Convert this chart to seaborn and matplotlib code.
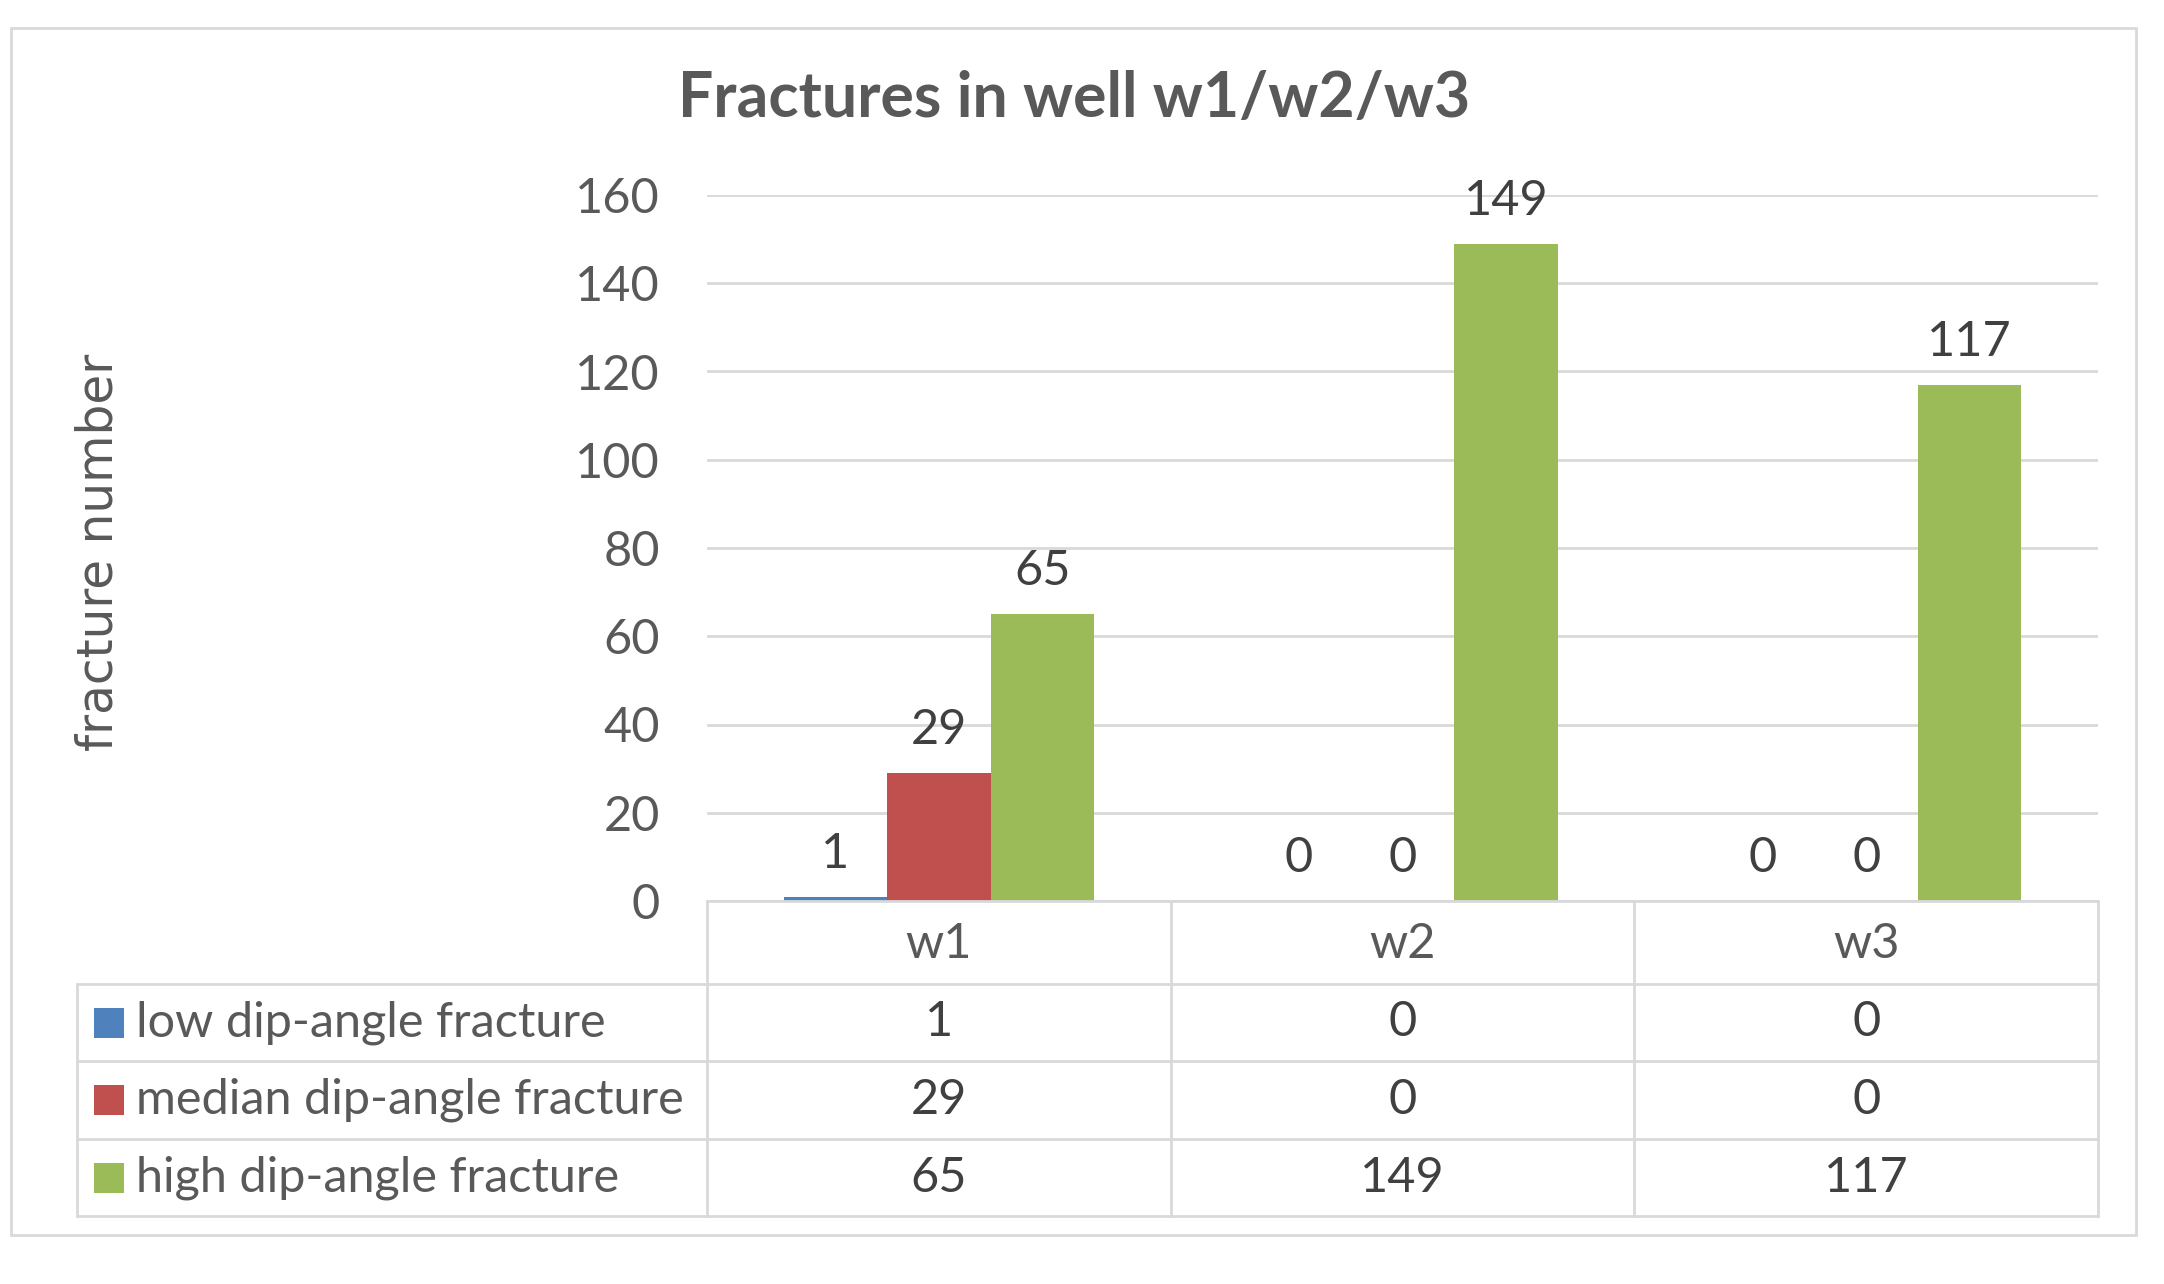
import numpy as np
import pandas as pd
import matplotlib
matplotlib.use("Agg")
import matplotlib.pyplot as plt
import seaborn as sns
from matplotlib.lines import Line2D
from matplotlib.patches import Rectangle
from matplotlib.transforms import blended_transform_factory

wells = ["w1", "w2", "w3"]
series = ["low dip-angle fracture", "median dip-angle fracture", "high dip-angle fracture"]
low_counts = [1, 0, 0]
median_counts = [29, 0, 0]
high_counts = [65, 149, 117]
colors = ["#4F81BD", "#C0504D", "#9BBB59"]
y_ticks = [0, 20, 40, 60, 80, 100, 120, 140, 160]

df = pd.DataFrame({
    "well": wells * 3,
    "type": [s for s in series for _ in wells],
    "count": low_counts + median_counts + high_counts,
})

sns.set_style("white")
plt.rcParams["font.family"] = ["Lato", "DejaVu Sans"]

W, H = 2164, 1284
fig = plt.figure(figsize=(W / 100, H / 100), dpi=100)

def fx(px):
    return px / W

def fy(py):
    return 1 - py / H

ax_left, ax_right, ax_top, ax_bottom = 707, 2098, 195, 901
ax = fig.add_axes([fx(ax_left), fy(ax_bottom), fx(ax_right - ax_left), (ax_bottom - ax_top) / H])

sns.barplot(data=df, x="well", y="count", hue="type", hue_order=series,
            palette=colors, width=0.67, gap=0, legend=False, ax=ax,
            saturation=1, edgecolor="none")

ax.set_xlim(-0.5, 2.5)
ax.set_ylim(0, 160)
ax.set_yticks(y_ticks)
ax.yaxis.grid(True, color="#D9D9D9", linewidth=2)
ax.set_axisbelow(True)
ax.tick_params(axis="y", length=0, pad=34, labelsize=35, labelcolor="#595959")
ax.set_xticks([])
ax.set_xlabel("")
ax.set_ylabel("")
for s in ["top", "right", "left"]:
    ax.spines[s].set_visible(False)
ax.spines["bottom"].set_color("#D9D9D9")
ax.spines["bottom"].set_linewidth(2)

for cont in ax.containers:
    ax.bar_label(cont, padding=15, fontsize=35, color="#404040")

# title and y label
fig.text(fx(1074), fy(99), "Fractures in well w1/w2/w3", ha="center", va="center",
         fontsize=45, fontweight="bold", color="#595959")
fig.text(fx(99), fy(552), "fracture number", rotation=90, ha="center", va="center",
         fontsize=35, color="#595959", family="DejaVu Sans")

# data table below the axis
line_kw = dict(color="#D9D9D9", linewidth=2)
row_edges = [984, 1061, 1139, 1216]
tr = blended_transform_factory(ax.transData, fig.transFigure)
for py in row_edges:
    fig.add_artist(Line2D([fx(77), fx(ax_right)], [fy(py), fy(py)], transform=fig.transFigure, **line_kw))
for xb in [-0.5, 0.5, 1.5, 2.5]:
    fig.add_artist(Line2D([xb, xb], [fy(ax_bottom), fy(1216)], transform=tr, **line_kw))
fig.add_artist(Line2D([fx(77), fx(77)], [fy(984), fy(1216)], transform=fig.transFigure, **line_kw))

for i, w in enumerate(wells):
    fig.text(i, fy(944), w, transform=tr, ha="center", va="center", fontsize=35, color="#595959")

rows = [low_counts, median_counts, high_counts]
for r, (name, vals, c) in enumerate(zip(series, rows, colors)):
    yc = (row_edges[r] + row_edges[r + 1]) / 2
    fig.add_artist(Rectangle((fx(94), fy(yc + 15)), fx(30), 30 / H, transform=fig.transFigure,
                             facecolor=c, edgecolor="none"))
    fig.text(fx(136), fy(yc), name, ha="left", va="center", fontsize=35, color="#595959")
    for i, v in enumerate(vals):
        fig.text(i, fy(yc), str(v), transform=tr, ha="center", va="center", fontsize=35, color="#404040")

# outer chart border
fig.add_artist(Rectangle((fx(11), fy(1235)), fx(2136 - 11), (1235 - 28) / H, transform=fig.transFigure,
                         facecolor="none", edgecolor="#D9D9D9", linewidth=2))

fig.savefig("out.png", dpi=100)
